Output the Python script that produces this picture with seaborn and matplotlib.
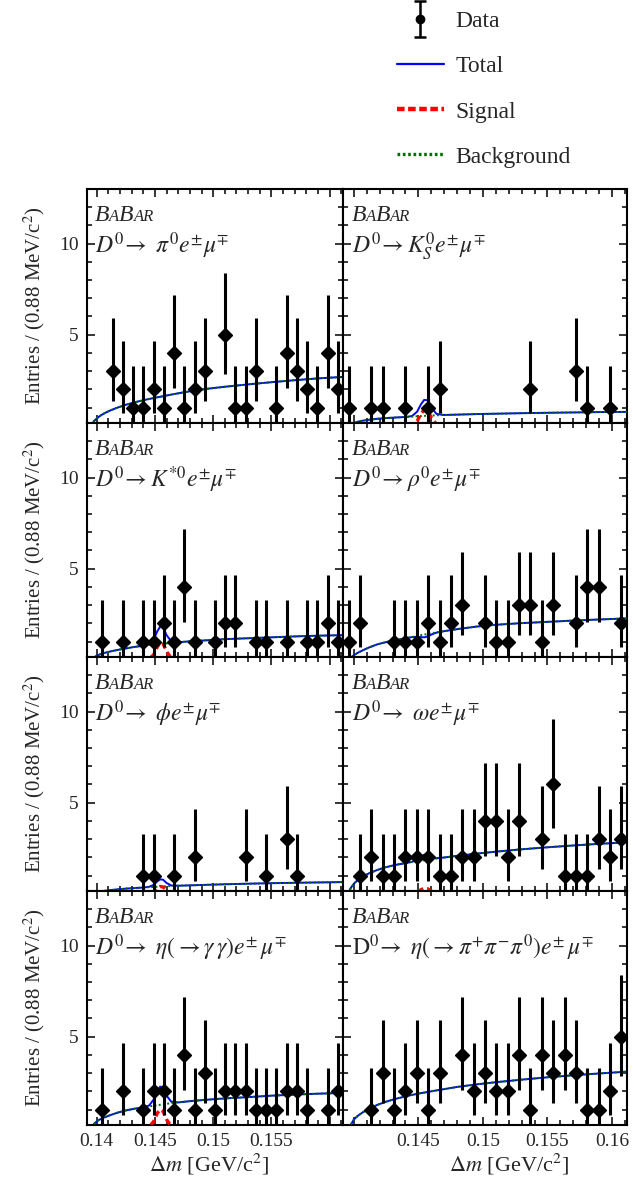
import matplotlib
matplotlib.use("Agg")
import matplotlib.pyplot as plt
from matplotlib.lines import Line2D
from matplotlib.container import ErrorbarContainer
from matplotlib.legend_handler import HandlerErrorbar
from matplotlib.offsetbox import TextArea, HPacker, AnchoredOffsetbox
from matplotlib.ticker import MultipleLocator, FixedLocator, FixedFormatter
import seaborn as sns
import pandas as pd
import numpy as np

# ------------------------------------------------------------
# data
# ------------------------------------------------------------
# histogram binning: 25 bins of 0.88 MeV/c^2
BIN_LO = 0.13916
BIN_WIDTH = 0.00088
N_BINS = 25

# entries per bin (bins with 0 entries are not drawn)
PI0_COUNTS = [0, 0, 3, 2, 1, 1, 2, 1, 4, 1, 2, 3, 0, 5, 1, 1, 3, 0, 1, 4, 3, 2, 1, 4, 2]
KS_COUNTS = [1, 0, 1, 1, 0, 1, 0, 1, 2, 0, 0, 0, 0, 0, 0, 0, 2, 0, 0, 0, 3, 1, 0, 1, 0]
KST_COUNTS = [0, 1, 0, 1, 0, 1, 1, 2, 1, 4, 1, 0, 1, 2, 2, 0, 1, 1, 0, 1, 0, 1, 1, 2, 1]
RHO_COUNTS = [1, 2, 0, 0, 1, 1, 1, 2, 1, 2, 3, 0, 2, 1, 1, 3, 3, 1, 3, 0, 2, 4, 4, 0, 2]
PHI_COUNTS = [0, 0, 0, 0, 0, 1, 1, 0, 1, 0, 2, 0, 0, 0, 0, 2, 0, 1, 0, 3, 1, 0, 0, 0, 0]
OMEGA_COUNTS = [0, 1, 2, 1, 1, 2, 2, 2, 1, 1, 2, 2, 4, 4, 2, 4, 0, 3, 6, 1, 1, 1, 3, 2, 3]
ETAGG_COUNTS = [0, 1, 0, 2, 0, 1, 2, 2, 1, 4, 1, 3, 1, 2, 2, 2, 1, 1, 1, 2, 2, 1, 0, 1, 2]
ETA3PI_COUNTS = [0, 0, 1, 3, 1, 2, 3, 1, 3, 0, 4, 2, 3, 2, 2, 4, 1, 4, 3, 4, 3, 1, 1, 2, 5]

# Poisson 68% intervals (low, high) for small counts
POISSON_LOW = {1: 0.827, 2: 1.292, 3: 1.633, 4: 1.914, 5: 2.159, 6: 2.380}
POISSON_HIGH = {1: 2.299, 2: 2.637, 3: 2.918, 4: 3.162, 5: 3.382, 6: 3.583}

# fit curves
CURVE_X = [0.13957, 0.13975, 0.1400, 0.1403, 0.1407, 0.1412, 0.1418, 0.1425,
           0.1432, 0.1440, 0.1445, 0.1449, 0.1452, 0.14545, 0.1457, 0.1460,
           0.1464, 0.1470, 0.1480, 0.1495, 0.1510, 0.1530, 0.1550, 0.1570,
           0.1590, 0.16116]

PI0_BKG = [0.0, 0.25, 0.40, 0.55, 0.70, 0.85, 1.00, 1.15, 1.28, 1.40, 1.47, 1.52, 1.56,
           1.59, 1.62, 1.66, 1.71, 1.78, 1.89, 2.03, 2.14, 2.27, 2.39, 2.50, 2.60, 2.68]
PI0_SIG = [0.0, 0.0, 0.0, 0.0, 0.0, 0.0, 0.0, 0.0, 0.0, 0.0, 0.0, 0.0, 0.0,
           0.0, 0.0, 0.0, 0.0, 0.0, 0.0, 0.0, 0.0, 0.0, 0.0, 0.0, 0.0, 0.0]

KS_BKG = [0.0, 0.08, 0.15, 0.22, 0.28, 0.33, 0.38, 0.42, 0.45, 0.48, 0.50, 0.52, 0.53,
          0.54, 0.55, 0.56, 0.57, 0.59, 0.61, 0.64, 0.66, 0.69, 0.71, 0.73, 0.75, 0.76]
KS_SIG = [0.0, 0.0, 0.0, 0.0, 0.0, 0.0, 0.0, 0.0, 0.0, 0.0, 0.03, 0.25, 0.65,
          0.88, 0.85, 0.45, 0.08, 0.0, 0.0, 0.0, 0.0, 0.0, 0.0, 0.0, 0.0, 0.0]

KST_BKG = [0.0, 0.12, 0.22, 0.30, 0.38, 0.46, 0.54, 0.62, 0.70, 0.77, 0.81, 0.84, 0.86,
           0.87, 0.89, 0.90, 0.93, 0.96, 1.01, 1.07, 1.13, 1.18, 1.23, 1.28, 1.32, 1.35]
KST_SIG = [0.0, 0.0, 0.0, 0.0, 0.0, 0.0, 0.0, 0.0, 0.0, 0.0, 0.04, 0.28, 0.70,
           0.95, 0.88, 0.45, 0.08, 0.0, 0.0, 0.0, 0.0, 0.0, 0.0, 0.0, 0.0, 0.0]

RHO_BKG = [0.0, 0.10, 0.25, 0.38, 0.52, 0.68, 0.84, 0.97, 1.07, 1.18, 1.25, 1.31, 1.35,
           1.38, 1.41, 1.45, 1.50, 1.57, 1.68, 1.82, 1.92, 2.01, 2.08, 2.15, 2.21, 2.27]
RHO_SIG = [0.0, 0.0, 0.0, 0.0, 0.0, 0.0, 0.0, 0.0, 0.0, 0.0, -0.01, -0.05, -0.11,
           -0.15, -0.14, -0.07, -0.01, 0.0, 0.0, 0.0, 0.0, 0.0, 0.0, 0.0, 0.0, 0.0]

PHI_BKG = [0.0, 0.04, 0.08, 0.12, 0.16, 0.20, 0.24, 0.28, 0.31, 0.34, 0.36, 0.37, 0.38,
           0.39, 0.40, 0.41, 0.42, 0.44, 0.46, 0.49, 0.52, 0.55, 0.58, 0.60, 0.62, 0.64]
PHI_SIG = [0.0, 0.0, 0.0, 0.0, 0.0, 0.0, 0.0, 0.0, 0.0, 0.0, 0.02, 0.12, 0.30,
           0.40, 0.37, 0.18, 0.03, 0.0, 0.0, 0.0, 0.0, 0.0, 0.0, 0.0, 0.0, 0.0]

OMEGA_BKG = [0.0, 0.30, 0.55, 0.75, 0.95, 1.13, 1.30, 1.46, 1.58, 1.68, 1.74, 1.78, 1.81,
             1.84, 1.86, 1.89, 1.93, 1.99, 2.08, 2.20, 2.31, 2.44, 2.55, 2.65, 2.74, 2.82]
OMEGA_SIG = [0.0, 0.0, 0.0, 0.0, 0.0, 0.0, 0.0, 0.0, 0.0, 0.0, 0.01, 0.09, 0.22,
             0.30, 0.28, 0.14, 0.02, 0.0, 0.0, 0.0, 0.0, 0.0, 0.0, 0.0, 0.0, 0.0]

ETAGG_BKG = [0.0, 0.20, 0.35, 0.47, 0.58, 0.70, 0.83, 0.95, 1.04, 1.12, 1.17, 1.21, 1.24,
             1.26, 1.28, 1.31, 1.35, 1.39, 1.46, 1.54, 1.61, 1.68, 1.76, 1.82, 1.87, 1.91]
ETAGG_SIG = [0.0, 0.0, 0.0, 0.0, 0.0, 0.0, 0.0, 0.0, 0.0, 0.0, 0.05, 0.35, 0.80,
             1.00, 0.90, 0.45, 0.08, 0.0, 0.0, 0.0, 0.0, 0.0, 0.0, 0.0, 0.0, 0.0]

ETA3PI_BKG = [0.0, 0.15, 0.45, 0.65, 0.85, 1.05, 1.25, 1.43, 1.58, 1.72, 1.80, 1.86, 1.90,
              1.93, 1.96, 2.00, 2.05, 2.12, 2.24, 2.38, 2.50, 2.64, 2.77, 2.88, 2.98, 3.08]
ETA3PI_SIG = [0.0, 0.0, 0.0, 0.0, 0.0, 0.0, 0.0, 0.0, 0.0, 0.0, 0.0, 0.0, 0.0,
              0.0, 0.0, 0.0, 0.0, 0.0, 0.0, 0.0, 0.0, 0.0, 0.0, 0.0, 0.0, 0.0]

# decay-mode labels, row by row
PI0_LABEL = r"$D^{\mathit{0}}\!\rightarrow\ \pi^{\mathit{0}}e^{\pm}\mu^{\mp}$"
KS_LABEL = r"$D^{\mathit{0}}\!\rightarrow K^{\mathit{0}}_{S}e^{\pm}\mu^{\mp}$"
KST_LABEL = r"$D^{\mathit{0}}\!\rightarrow K^{*\mathit{0}}e^{\pm}\mu^{\mp}$"
RHO_LABEL = r"$D^{\mathit{0}}\!\rightarrow \rho^{\mathit{0}}e^{\pm}\mu^{\mp}$"
PHI_LABEL = r"$D^{\mathit{0}}\!\rightarrow\ \phi e^{\pm}\mu^{\mp}$"
OMEGA_LABEL = r"$D^{\mathit{0}}\!\rightarrow\ \omega e^{\pm}\mu^{\mp}$"
ETAGG_LABEL = r"$D^{\mathit{0}}\!\rightarrow\ \eta(\rightarrow\gamma\,\gamma)e^{\pm}\,\mu^{\mp}$"
ETA3PI_LABEL = r"$\mathrm{D}^{\mathit{0}}\!\rightarrow\ \eta(\rightarrow\pi^{+}\pi^{-}\pi^{\mathit{0}})e^{\pm}\,\mu^{\mp}$"

PANELS = [
    (PI0_COUNTS, PI0_BKG, PI0_SIG, PI0_LABEL),
    (KS_COUNTS, KS_BKG, KS_SIG, KS_LABEL),
    (KST_COUNTS, KST_BKG, KST_SIG, KST_LABEL),
    (RHO_COUNTS, RHO_BKG, RHO_SIG, RHO_LABEL),
    (PHI_COUNTS, PHI_BKG, PHI_SIG, PHI_LABEL),
    (OMEGA_COUNTS, OMEGA_BKG, OMEGA_SIG, OMEGA_LABEL),
    (ETAGG_COUNTS, ETAGG_BKG, ETAGG_SIG, ETAGG_LABEL),
    (ETA3PI_COUNTS, ETA3PI_BKG, ETA3PI_SIG, ETA3PI_LABEL),
]

# ------------------------------------------------------------
# style
# ------------------------------------------------------------
sns.set_theme(style="ticks")
SERIF = ["Liberation Serif", "DejaVu Serif"]
plt.rcParams["font.family"] = SERIF
plt.rcParams["mathtext.fontset"] = "stix"
plt.rcParams["axes.linewidth"] = 1.5
plt.rcParams["axes.edgecolor"] = "black"

C_TOTAL = "#0000ff"
C_SIG = "#ff0000"
C_BKG = "#006f00"

XLIM = (BIN_LO, BIN_LO + N_BINS * BIN_WIDTH)
YLIM = (0.15, 13.0)
W, H = 634, 1182

fig = plt.figure(figsize=(W / 100, H / 100), dpi=100)
gs = fig.add_gridspec(4, 2, left=87 / W, right=627 / W, top=1 - 189 / H,
                      bottom=1 - 1125 / H, wspace=0, hspace=0,
                      width_ratios=[256, 284])

centers = BIN_LO + BIN_WIDTH * (np.arange(N_BINS) + 0.5)


def babar_logo(ax):
    """BaBar logo with small caps, top left of the frame."""
    big = dict(fontsize=17, fontstyle="italic", fontfamily=SERIF)
    small = dict(fontsize=12, fontstyle="italic", fontfamily=SERIF)
    parts = [TextArea("B", textprops=big), TextArea("A", textprops=small),
             TextArea("B", textprops=big), TextArea("AR", textprops=small)]
    box = HPacker(children=parts, align="baseline", pad=0, sep=0)
    anchored = AnchoredOffsetbox(loc="upper left", child=box, pad=0,
                                 borderpad=0, frameon=False,
                                 bbox_to_anchor=(0.03, 0.93),
                                 bbox_transform=ax.transAxes)
    ax.add_artist(anchored)


axes = []
for i, (counts, bkg, sig, label) in enumerate(PANELS):
    row, col = divmod(i, 2)
    ax = fig.add_subplot(gs[row, col])
    axes.append(ax)

    curves = pd.DataFrame({"dm": CURVE_X, "bkg": bkg, "sig": sig})
    curves["total"] = curves["bkg"] + curves["sig"]

    sns.lineplot(data=curves, x="dm", y="total", ax=ax, color=C_TOTAL,
                 lw=1.4, zorder=2)
    sns.lineplot(data=curves, x="dm", y="bkg", ax=ax, color=C_BKG,
                 lw=1.4, linestyle=(0, (1, 1.2)), zorder=3)
    sns.lineplot(data=curves, x="dm", y="sig", ax=ax, color=C_SIG,
                 lw=2.4, linestyle=(0, (1.8, 1.2)), zorder=3)

    df = pd.DataFrame({"dm": centers, "n": counts})
    df = df[df["n"] > 0]
    lo = [POISSON_LOW[n] for n in df["n"]]
    hi = [POISSON_HIGH[n] for n in df["n"]]
    ax.errorbar(df["dm"], df["n"], yerr=[lo, hi], fmt="D", color="black",
                ms=7, elinewidth=2.2, capsize=0, zorder=5, clip_on=True)

    ax.set_xlim(*XLIM)
    ax.set_ylim(*YLIM)
    ax.set_xlabel("")
    ax.set_ylabel("")

    # ticks inside on all four sides
    ax.tick_params(which="both", direction="in", top=True, right=True,
                   width=1.3, labelsize=14, pad=6)
    ax.tick_params(which="major", length=6)
    ax.tick_params(which="minor", length=3.5)
    ax.yaxis.set_major_locator(FixedLocator([5, 10]))
    ax.yaxis.set_minor_locator(MultipleLocator(1))
    ax.xaxis.set_major_locator(FixedLocator([0.14, 0.145, 0.15, 0.155, 0.16]))
    ax.xaxis.set_minor_locator(MultipleLocator(0.001))
    if col == 0:
        ax.xaxis.set_major_formatter(FixedFormatter(["0.14", "0.145", "0.15", "0.155", ""]))
        ax.yaxis.set_major_formatter(FixedFormatter(["5", "10"]))
        ax.set_ylabel("Entries / (0.88 MeV/c$^{2}$)", fontsize=15)
        ax.yaxis.set_label_coords(-0.155, 0.5)
    else:
        ax.xaxis.set_major_formatter(FixedFormatter(["", "0.145", "0.15", "0.155", "0.16"]))
        ax.tick_params(axis="y", labelleft=False)
    if row < 3:
        ax.tick_params(axis="x", labelbottom=False)
    else:
        ax.set_xlabel(r"$\Delta m$ [GeV/c$^{2}$]", fontsize=16)
        ax.xaxis.set_label_coords(0.475 if col == 0 else 0.585, -0.115)

    babar_logo(ax)
    ax.text(0.03, 0.725, label, transform=ax.transAxes, fontsize=17,
            ha="left", va="baseline")

# ------------------------------------------------------------
# legend on top
# ------------------------------------------------------------
proxy = axes[0].errorbar([0.13], [5], yerr=[[1], [1]], fmt="o", color="black",
                         ms=6, elinewidth=1.8, capsize=4, capthick=1.8)
handles = [
    proxy,
    Line2D([], [], color=C_TOTAL, lw=1.6),
    Line2D([], [], color=C_SIG, lw=3.2, linestyle=(0, (1.7, 0.8))),
    Line2D([], [], color=C_BKG, lw=2.4, linestyle=(0, (0.8, 0.8))),
]
labels = ["Data", "Total", "Signal", "Background"]
fig.legend(handles, labels, loc="upper left",
           bbox_to_anchor=(392 / W, 1 - 6 / H), frameon=False, fontsize=17,
           numpoints=1, handlelength=2.0, handletextpad=0.5,
           labelspacing=1.0, borderaxespad=0, borderpad=0.2,
           handler_map={ErrorbarContainer: HandlerErrorbar(yerr_size=0.75)})

fig.savefig("out.png", dpi=100)
